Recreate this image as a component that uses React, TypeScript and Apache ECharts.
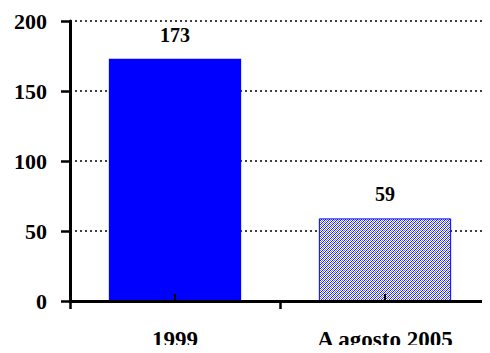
import React, { useEffect, useRef } from "react";
import * as echarts from "echarts";

const categories = ["1999", "A agosto 2005"];
const values = [173, 59];
const yTicks = { min: 0, max: 200, interval: 50 };

const SERIF = '"Liberation Serif", "Times New Roman", serif';

// Small tile of fine blue diagonal hatching for the second bar.
function makeHatch(): HTMLCanvasElement {
  const c = document.createElement("canvas");
  c.width = 4;
  c.height = 4;
  const ctx = c.getContext("2d")!;
  ctx.fillStyle = "#ffffff";
  ctx.fillRect(0, 0, 4, 4);
  for (let y = 0; y < 4; y++) {
    for (let x = 0; x < 4; x++) {
      const k = (x + y) % 4;
      if (k === 0) {
        ctx.fillStyle = "#1a1aff";
        ctx.fillRect(x, y, 1, 1);
      } else if (k === 2) {
        ctx.fillStyle = "#6f6fff";
        ctx.fillRect(x, y, 1, 1);
      }
    }
  }
  return c;
}

export default function App() {
  const ref = useRef<HTMLDivElement>(null);

  useEffect(() => {
    if (!ref.current) return;
    const chart = echarts.init(ref.current, undefined, { renderer: "svg" });
    const hatch = makeHatch();

    const data = values.map((v, i) =>
      i === 0
        ? { value: v, itemStyle: { color: "#0000ff" } }
        : {
            value: v,
            itemStyle: {
              color: { image: hatch, repeat: "repeat" },
              borderColor: "#0000ff",
              borderWidth: 1,
            },
          }
    );

    chart.setOption({
      animation: false,
      backgroundColor: "#ffffff",
      grid: { left: 70, right: -8, top: 21, bottom: 52, containLabel: false },
      xAxis: [
        {
          type: "category",
          data: categories,
          axisLine: { lineStyle: { color: "#000", width: 3 } },
          axisTick: { show: true, length: 8, lineStyle: { color: "#000", width: 2.5 } },
          axisLabel: {
            color: "#000",
            fontFamily: SERIF,
            fontWeight: "bold",
            fontSize: 23,
            margin: 27,
          },
          z: 5,
        },
        {
          type: "category",
          data: categories,
          position: "bottom",
          axisLine: { show: false },
          axisTick: {
            show: true,
            alignWithLabel: true,
            inside: true,
            length: 7,
            lineStyle: { color: "#000", width: 2 },
          },
          axisLabel: { show: false },
          splitLine: { show: false },
          z: 6,
        },
      ],
      yAxis: {
        type: "value",
        min: yTicks.min,
        max: yTicks.max,
        interval: yTicks.interval,
        axisLine: { show: true, lineStyle: { color: "#000", width: 3 } },
        axisTick: { show: true, length: 9, lineStyle: { color: "#000", width: 2.5 } },
        axisLabel: {
          color: "#000",
          fontFamily: SERIF,
          fontWeight: "bold",
          fontSize: 22,
          margin: 23,
        },
        splitLine: {
          show: true,
          lineStyle: { color: "#000", width: 1.5, type: [2, 3] },
        },
      },
      series: [
        {
          type: "bar",
          data,
          barWidth: "63%",
          label: {
            show: true,
            position: "top",
            distance: 14,
            color: "#000",
            fontFamily: SERIF,
            fontWeight: "bold",
            fontSize: 20,
          },
        },
      ],
    });

    return () => chart.dispose();
  }, []);

  return <div ref={ref} style={{ width: 490, height: 353, margin: -8 }} />;
}
